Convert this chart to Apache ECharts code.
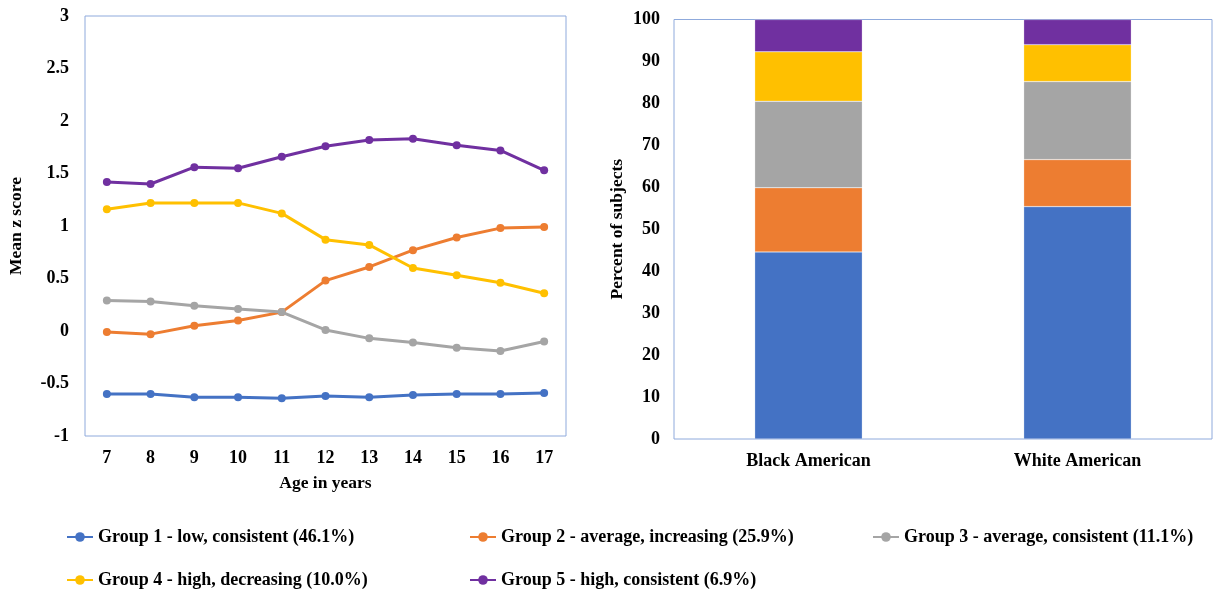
<!DOCTYPE html>
<html>
<head>
<meta charset="utf-8">
<script src="https://cdn.jsdelivr.net/npm/echarts@6/dist/echarts.min.js"></script>
<style>
html,body{margin:0;padding:0;background:#fff;}
#main{width:1213px;height:593px;}
</style>
</head>
<body>
<div id="main"></div>
<script>
// data
var ages = ['7', '8', '9', '10', '11', '12', '13', '14', '15', '16', '17'];
var groupNames = [
	'Group 1 - low, consistent (46.1%)',
	'Group 2 - average, increasing (25.9%)',
	'Group 3 - average, consistent (11.1%)',
	'Group 4 - high, decreasing (10.0%)',
	'Group 5 - high, consistent (6.9%)'
];
var group1 = [-0.60, -0.60, -0.63, -0.63, -0.64, -0.62, -0.63, -0.61, -0.60, -0.60, -0.59];
var group2 = [-0.01, -0.03, 0.05, 0.10, 0.18, 0.48, 0.61, 0.77, 0.89, 0.98, 0.99];
var group3 = [0.29, 0.28, 0.24, 0.21, 0.18, 0.01, -0.07, -0.11, -0.16, -0.19, -0.10];
var group4 = [1.16, 1.22, 1.22, 1.22, 1.12, 0.87, 0.82, 0.60, 0.53, 0.46, 0.36];
var group5 = [1.42, 1.40, 1.56, 1.55, 1.66, 1.76, 1.82, 1.83, 1.77, 1.72, 1.53];
var races = ['Black American', 'White American'];
var pct1 = [44.6, 55.4];
var pct2 = [15.3, 11.2];
var pct3 = [20.6, 18.6];
var pct4 = [11.8, 8.8];
var pct5 = [7.7, 6.0];
var colors = ['#4472C4', '#ED7D31', '#A5A5A5', '#FFC000', '#7030A0'];

var lineData = [group1, group2, group3, group4, group5];
var barData = [pct1, pct2, pct3, pct4, pct5];

var font = 'Liberation Serif, Times New Roman, serif';
var boxColor = '#8FAADC';

var series = [];
for (var i = 0; i < 5; i++) {
	series.push({
		name: groupNames[i],
		type: 'line',
		xAxisIndex: 0,
		yAxisIndex: 0,
		data: lineData[i],
		symbol: 'circle',
		symbolSize: 8,
		lineStyle: { width: 3, color: colors[i] },
		itemStyle: { color: colors[i] },
		z: 2 + i
	});
}
for (var j = 0; j < 5; j++) {
	series.push({
		name: groupNames[j],
		type: 'bar',
		xAxisIndex: 1,
		yAxisIndex: 1,
		stack: 'race',
		barWidth: '40%',
		data: barData[j],
		itemStyle: { color: colors[j], borderColor: 'rgba(255,255,255,0.5)', borderWidth: 0.5 }
	});
}

// one legend per item so the columns line up like the original
function legendAt(idx, left, top) {
	return {
		data: [groupNames[idx]],
		left: left,
		top: top,
		itemWidth: 26,
		itemHeight: 12,
		textStyle: { fontFamily: font, fontWeight: 'bold', fontSize: 18, color: '#000' }
	};
}

var chart = echarts.init(document.getElementById('main'));
var option = {
	backgroundColor: '#fff',
	animation: false,
	textStyle: { fontFamily: font },
	legend: [
		legendAt(0, 61, 523),
		legendAt(1, 464, 523),
		legendAt(2, 867, 523),
		legendAt(3, 61, 566),
		legendAt(4, 464, 566)
	],
	grid: [
		{ left: 85, top: 16, width: 481, height: 420, show: true, borderColor: boxColor, borderWidth: 1 },
		{ left: 674, top: 19.5, width: 538, height: 419.5, show: true, borderColor: boxColor, borderWidth: 1 }
	],
	xAxis: [{
		gridIndex: 0,
		type: 'category',
		data: ages,
		name: 'Age in years',
		nameLocation: 'middle',
		nameGap: 38,
		nameTextStyle: { fontFamily: font, fontWeight: 'bold', fontSize: 17.5, color: '#000' },
		axisLine: { show: false },
		axisTick: { show: false },
		axisLabel: { margin: 13, fontFamily: font, fontWeight: 'bold', fontSize: 18, color: '#000' }
	}, {
		gridIndex: 1,
		type: 'category',
		data: races,
		axisLine: { show: false },
		axisTick: { show: false },
		axisLabel: { margin: 13, fontFamily: font, fontWeight: 'bold', fontSize: 18, color: '#000' }
	}],
	yAxis: [{
		gridIndex: 0,
		type: 'value',
		min: -1,
		max: 3,
		interval: 0.5,
		name: 'Mean z score',
		nameLocation: 'middle',
		nameGap: 60,
		nameTextStyle: { fontFamily: font, fontWeight: 'bold', fontSize: 17.5, color: '#000' },
		axisLine: { show: false },
		axisTick: { show: false },
		splitLine: { show: false },
		axisLabel: { margin: 16, fontFamily: font, fontWeight: 'bold', fontSize: 18, color: '#000' }
	}, {
		gridIndex: 1,
		type: 'value',
		min: 0,
		max: 100,
		interval: 10,
		name: 'Percent of subjects',
		nameLocation: 'middle',
		nameGap: 48,
		nameTextStyle: { fontFamily: font, fontWeight: 'bold', fontSize: 17.5, color: '#000' },
		axisLine: { show: false },
		axisTick: { show: false },
		splitLine: { show: false },
		axisLabel: { margin: 14, fontFamily: font, fontWeight: 'bold', fontSize: 18, color: '#000' }
	}],
	series: series
};
chart.setOption(option);
</script>
</body>
</html>
